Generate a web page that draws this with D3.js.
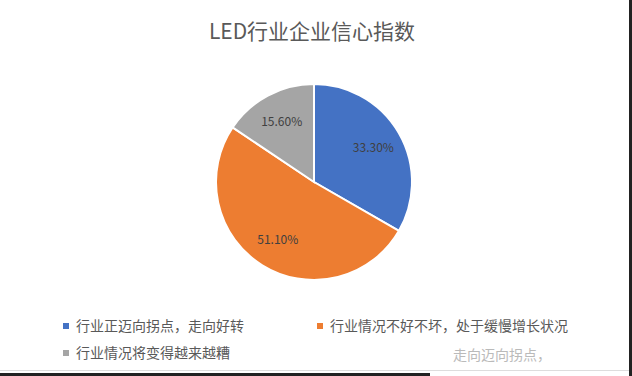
<!DOCTYPE html>
<html>
<head>
<meta charset="utf-8">
<script src="https://cdn.jsdelivr.net/npm/d3@7"></script>
<style>
  body { margin: 0; background: #fff; }
  svg { display: block; font-family: "Noto Sans CJK SC", "Noto Sans", sans-serif; }
</style>
</head>
<body>
<div id="chart"></div>
<script>
const title = "LED行业企业信心指数";
const categories = ["行业正迈向拐点，走向好转", "行业情况不好不坏，处于缓慢增长状况", "行业情况将变得越来越糟"];
const values = [33.3, 51.1, 15.6];
const colors = ["#4472C4", "#ED7D31", "#A5A5A5"];

const width = 632, height = 376;
const cx = 314, cy = 182, radius = 98;

const svg = d3.select("#chart").append("svg")
  .attr("width", width)
  .attr("height", height);

svg.append("text")
  .attr("x", 312)
  .attr("y", 39)
  .attr("text-anchor", "middle")
  .style("font-size", "21px")
  .style("fill", "#595959")
  .text(title);

const pie = d3.pie().sort(null).value(d => d);
const arc = d3.arc().innerRadius(0).outerRadius(radius);
const labelArc = d3.arc().innerRadius(radius * 0.7).outerRadius(radius * 0.7);

const g = svg.append("g")
  .attr("transform", `translate(${cx},${cy})`);

const arcs = pie(values);

g.selectAll("path")
  .data(arcs)
  .enter().append("path")
  .attr("d", arc)
  .attr("fill", (d, i) => colors[i])
  .attr("stroke", "#fff")
  .attr("stroke-width", 2);

g.selectAll(".label")
  .data(arcs)
  .enter().append("text")
  .attr("class", "label")
  .attr("transform", d => `translate(${labelArc.centroid(d)})`)
  .attr("text-anchor", "middle")
  .attr("dy", "0.35em")
  .style("font-size", "12px")
  .style("fill", "#404040")
  .text(d => d.data.toFixed(2) + "%");

// legend
const legendPos = [[66, 326], [320, 326], [66, 353]];
const legend = svg.selectAll(".legend")
  .data(categories)
  .enter().append("g")
  .attr("class", "legend")
  .attr("transform", (d, i) => `translate(${legendPos[i][0]},${legendPos[i][1]})`);

legend.append("rect")
  .attr("x", -3)
  .attr("y", -3)
  .attr("width", 6)
  .attr("height", 6)
  .attr("fill", (d, i) => colors[i]);

legend.append("text")
  .attr("x", 10)
  .attr("dy", "0.35em")
  .style("font-size", "14px")
  .style("fill", "#595959")
  .text(d => d);

// faded text bleeding through from the scanned page
svg.append("text")
  .attr("x", 453)
  .attr("y", 355)
  .attr("dy", "0.35em")
  .style("font-size", "14px")
  .style("fill", "#aaa")
  .style("opacity", 0.8)
  .text("走向迈向拐点，");

// frame edges of the screenshot
svg.append("line")
  .attr("x1", 0).attr("x2", width)
  .attr("y1", 370.5).attr("y2", 370.5)
  .attr("stroke", "#ddd");
svg.append("rect")
  .attr("x", 0).attr("y", 373)
  .attr("width", 430).attr("height", 3)
  .attr("fill", "#222");
svg.append("rect")
  .attr("x", 629).attr("y", 0)
  .attr("width", 3).attr("height", height)
  .attr("fill", "#222");
</script>
</body>
</html>
